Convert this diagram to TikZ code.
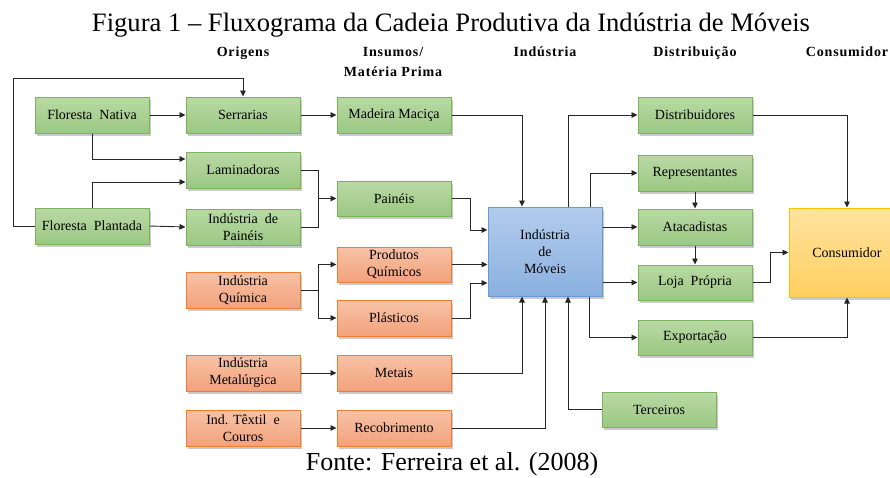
\documentclass[tikz,border=0pt]{standalone}
\usepackage{fontspec}
\setmainfont{Liberation Serif}
\usetikzlibrary{shadows,arrows.meta}
\definecolor{gtop}{HTML}{B9D9A5}
\definecolor{gbot}{HTML}{9CC882}
\definecolor{gline}{HTML}{7AB35A}
\definecolor{otop}{HTML}{F7C2A6}
\definecolor{obot}{HTML}{F2A27C}
\definecolor{oline}{HTML}{ED7D31}
\definecolor{btop}{HTML}{B2CCEC}
\definecolor{bbot}{HTML}{8AB0E0}
\definecolor{bline}{HTML}{6A9AD6}
\definecolor{ytop}{HTML}{FFE3A0}
\definecolor{ybot}{HTML}{FFCF60}
\definecolor{yline}{HTML}{FFC000}
\tikzset{
  box/.style={draw, line width=1pt, minimum width=114pt, minimum height=36pt, inner sep=1pt,
    align=center, font=\fontsize{14}{17}\selectfont,
    drop shadow={shadow xshift=2pt, shadow yshift=-2.5pt, opacity=0.35, fill=black!60}},
  gbox/.style={box, draw=gline, top color=gtop, bottom color=gbot},
  obox/.style={box, draw=oline, top color=otop, bottom color=obot},
  bbox/.style={box, draw=bline, top color=btop, bottom color=bbot},
  ybox/.style={box, draw=yline, top color=ytop, bottom color=ybot},
  conn/.style={line width=0.9pt, draw=black!85},
  arr/.style={conn, -{Triangle[length=6pt,width=5.5pt]}},
  hdr/.style={font=\fontsize{14}{25}\selectfont\bfseries\addfontfeature{LetterSpace=6}, align=center, inner sep=0pt},
}
\begin{document}
\begin{tikzpicture}[x=1pt,y=-1pt]
\useasboundingbox (0,0) rectangle (890,477);
% title and source
\node[anchor=base, inner sep=0pt, font=\fontsize{26.6}{30}\selectfont] (title) at (451,31) {Figura 1 -- Fluxograma da Cadeia Produtiva da Indústria de Móveis};
\node[anchor=base, inner sep=0pt, font=\fontsize{26}{30}\selectfont] (fonte) at (452,470) {Fonte: Ferreira et al. (2008)};
% headers
\node[hdr, anchor=base] (h1) at (243,56) {Origens};
\node[hdr, anchor=base] (h2) at (393,56) {Insumos/};
\node[hdr, anchor=base] (h2b) at (393,76) {Matéria Prima};
\node[hdr, anchor=base] (h3) at (545,56) {Indústria};
\node[hdr, anchor=base] (h4) at (695,56) {Distribuição};
\node[hdr, anchor=base] (h5) at (847,56) {Consumidor};
% boxes column 1
\node[gbox] (fn) at (92,115) {Floresta\ \ Nativa};
\node[gbox] (fp) at (92,226) {Floresta\ \ Plantada};
% column 2
\node[gbox] (ser) at (243,115) {Serrarias};
\node[gbox] (lam) at (243,170) {Laminadoras};
\node[gbox] (ip) at (243,227) {Indústria\ \ de\\Painéis};
\node[obox] (iq) at (243,290) {Indústria\\Química};
\node[obox] (im) at (243,373) {Indústria\\Metalúrgica};
\node[obox] (it) at (243,428) {Ind. Têxtil\ \ e\\Couros};
% column 3
\node[gbox] (mm) at (394,115) {Madeira Maciça};
\node[gbox, minimum height=35pt] (pai) at (394,198.5) {Painéis};
\node[obox, minimum height=35pt] (pq) at (394,264.5) {Produtos\\Químicos};
\node[obox] (pla) at (394,318) {Plásticos};
\node[obox] (met) at (394,373) {Metais};
\node[obox] (rec) at (394,428) {Recobrimento};
% industry
\node[bbox, minimum height=89pt] (mov) at (545,251.5) {Indústria\\de\\Móveis};
% distribution
\node[gbox] (dis) at (695,115) {Distribuidores};
\node[gbox] (rep) at (695,173) {Representantes};
\node[gbox] (ata) at (695,227) {Atacadistas};
\node[gbox, minimum height=35pt] (loj) at (695,282.5) {Loja\ \ Própria};
\node[gbox, minimum height=35pt] (exp) at (695,337.5) {Exportação};
\node[gbox, minimum height=35pt] (ter) at (659,409.5) {Terceiros};
% consumer
\node[ybox, minimum width=116pt, minimum height=89pt] (con) at (847,252.5) {Consumidor};
% connectors
\draw[arr] (fp.west) -- (13,226) -- (13,78) -| (ser.north);
\draw[arr] (fn.east) -- (ser.west);
\draw[arr] (ser.east) -- (mm.west);
\draw[arr] (fn.south) |- ([yshift=11pt]lam.west);
\draw[arr] (fp.north) |- ([yshift=-12pt]lam.west);
\draw[arr] (fp.east) -- (ip.west);
\coordinate (jp) at (318,198.5);
\draw[conn] (lam.east) -| (jp);
\draw[conn] (ip.east) -| (jp);
\draw[arr] (jp) -- (pai.west);
\coordinate (jq) at (318,290);
\draw[conn] (iq.east) -- (jq);
\draw[arr] (jq) |- (pq.west);
\draw[arr] (jq) |- (pla.west);
\draw[arr] (im.east) -- (met.west);
\draw[arr] (it.east) -- (rec.west);
% into industry
\draw[arr] (mm.east) -| ([xshift=-23pt]mov.north);
\draw[arr] (pai.east) -- ++(19,0) |- ([yshift=21.5pt]mov.west);
\draw[arr] (pq.east) -- (pq.east -| mov.west);
\draw[arr] (pla.east) -- ++(19,0) |- ([yshift=-31.5pt]mov.west);
\draw[arr] (met.east) -| ([xshift=-23pt]mov.south);
\draw[arr] (rec.east) -| (mov.south);
\draw[arr] (ter.west) -| ([xshift=23pt]mov.south);
% out of industry
\draw[arr] ([xshift=23pt]mov.north) |- (dis.west);
\draw[arr] ([xshift=45pt]mov.north) |- (rep.west);
\draw[arr] (mov.east |- ata.west) -- (ata.west);
\draw[arr] (mov.east |- loj.west) -- (loj.west);
\draw[arr] ([xshift=44pt]mov.south) |- (exp.west);
\draw[arr] (rep.south) -- (ata.north);
\draw[arr] (ata.south) -- (loj.north);
% to consumer
\draw[arr] (loj.east) -- ++(18,0) |- (con.west);
\draw[arr] (dis.east) -| (con.north);
\draw[arr] (exp.east) -| (con.south);
\end{tikzpicture}
\end{document}
